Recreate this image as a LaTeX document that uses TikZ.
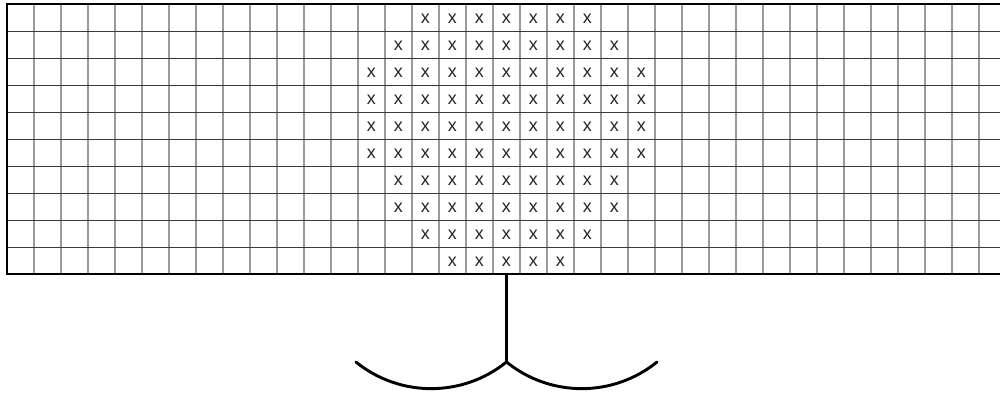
\documentclass[tikz,border=0pt]{standalone}
\usepackage{fontspec}
\setsansfont{Liberation Sans}
\definecolor{gridgray}{HTML}{9A9A9A}
\definecolor{rowline}{HTML}{3A3A3A}
\tikzset{
  colline/.style={gridgray, line width=1pt},
  rowrule/.style={rowline, line width=0.7pt},
  frame/.style={black, line width=2pt},
  stand/.style={black, line width=2.2pt},
  mark x/.style={font=\sffamily\fontsize{13.5}{13.5}\selectfont, text=black!85, inner sep=0pt}
}

\begin{document}
\begin{tikzpicture}[x=0.714cm, y=0.714cm]
\clip (-0.259,-4.519) rectangle (36.78,10.148);

% Grid
\foreach \c in {1,...,37}
  \draw[colline] (\c,0) -- (\c,10);
\foreach \r in {1,...,9}
  \draw[rowrule] (0,\r) -- (37,\r);
\draw[frame] (37,0) -- (0,0) -- (0,10) -- (37,10);

% Marked cells (row from top, first and last column)
\foreach \r/\first/\last in {1/15/21, 2/14/22, 3/13/23, 4/13/23, 5/13/23,
                             6/13/23, 7/14/22, 8/14/22, 9/15/21, 10/16/20}
  \foreach \c in {\first,...,\last}
    \node[mark x] (x-\r-\c) at (\c+0.5,10.45-\r) {x};

% Stand
\coordinate (base) at (18.5,0);
\coordinate (fork) at (18.5,-3.26);
\draw[stand] (base) -- (fork);
\draw[stand, line cap=round] (fork) arc[start angle=309, end angle=231, radius=4.43];
\draw[stand, line cap=round] (fork) arc[start angle=231, end angle=309, radius=4.43];
\end{tikzpicture}
\end{document}
